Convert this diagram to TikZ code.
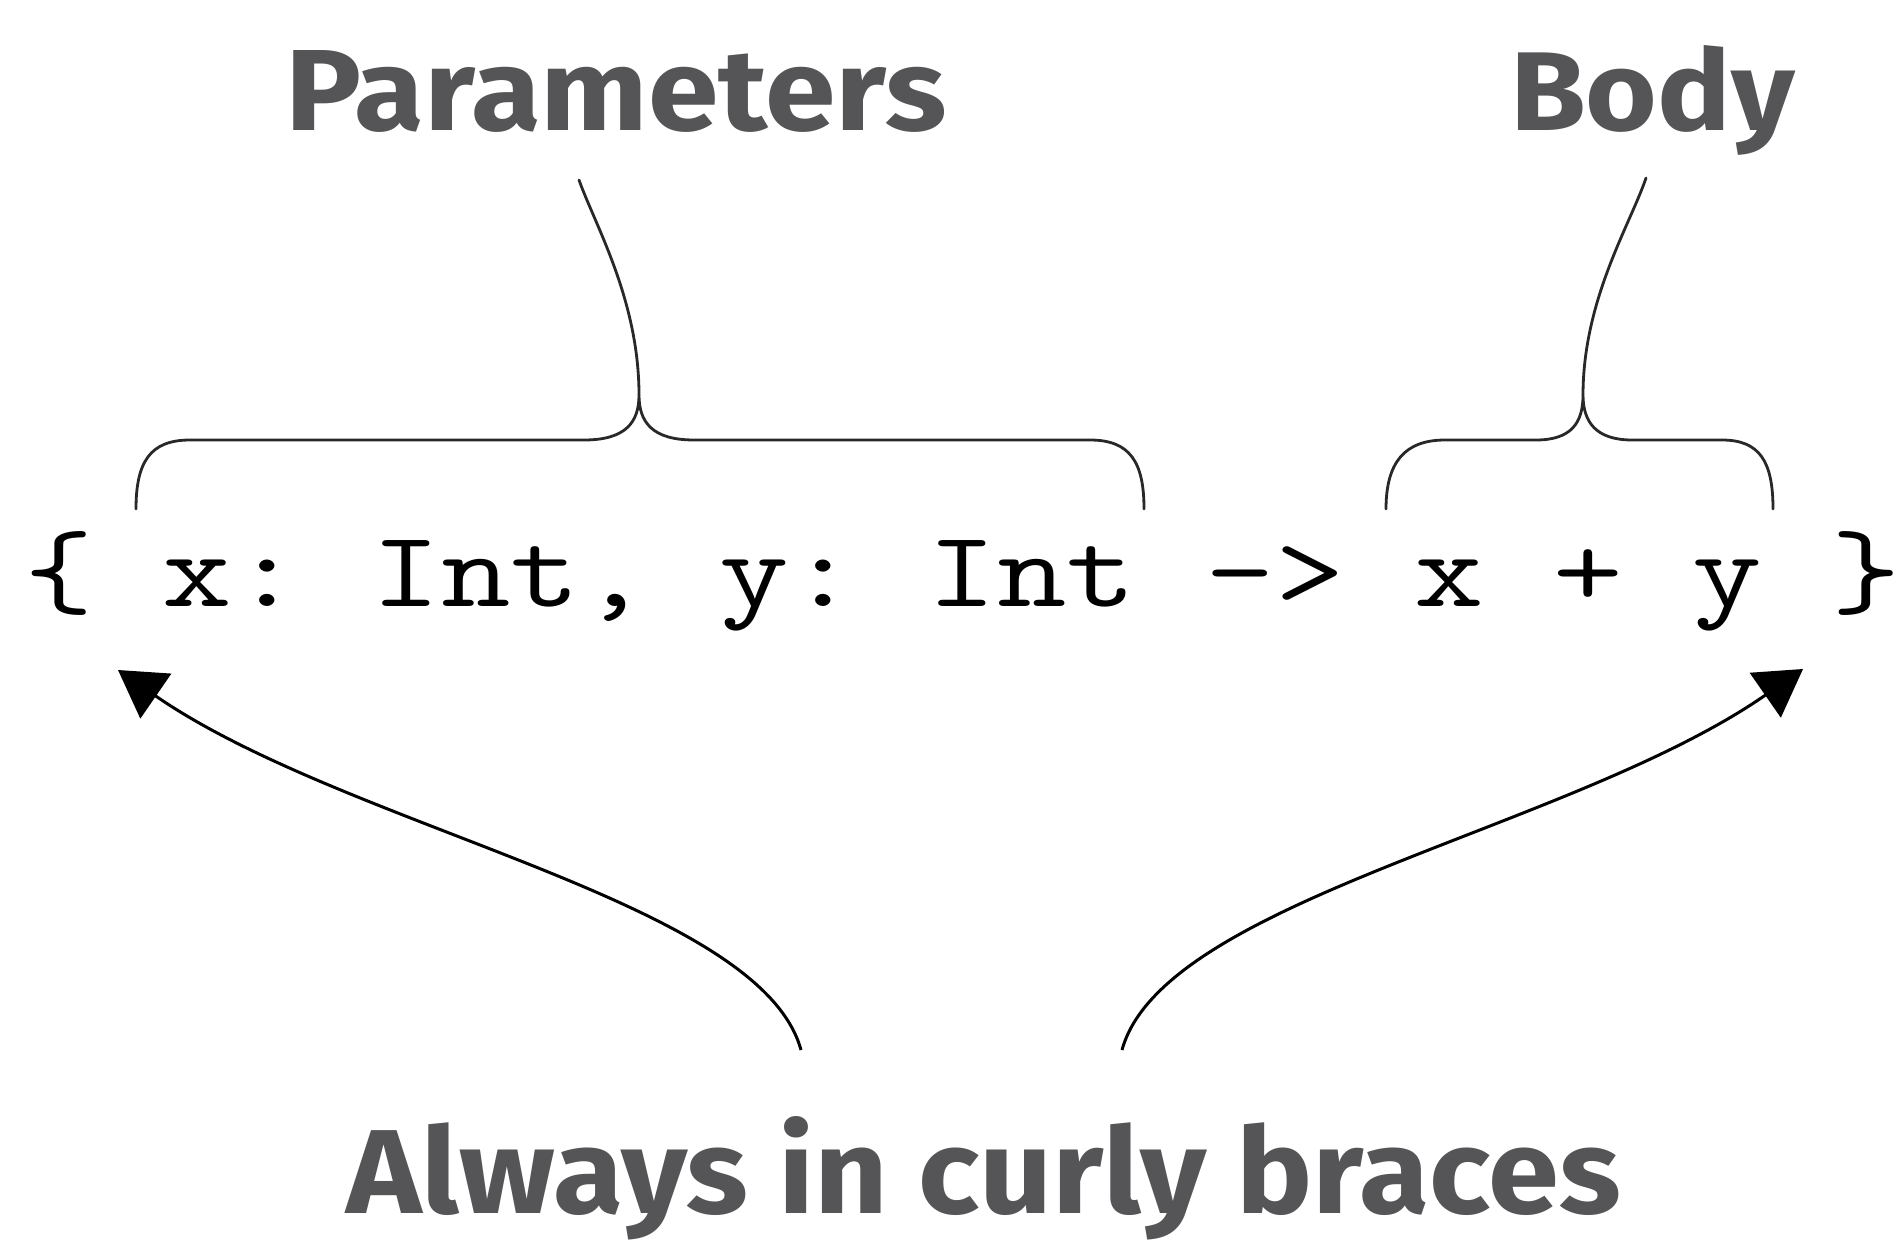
\documentclass[tikz,border=0pt]{standalone}
\usepackage{fontspec}
\usepackage{graphicx}
\setmainfont{Fira Sans}
\newfontfamily\labelfont{Fira Sans}
\usetikzlibrary{arrows.meta}
\definecolor{labelgray}{RGB}{85,85,88}
\definecolor{inkdark}{RGB}{40,40,40}
\tikzset{
  lbl/.style={anchor=base west, inner sep=0pt, outer sep=0pt, text=labelgray},
  codetxt/.style={anchor=base west, inner sep=0pt, outer sep=0pt, text=black},
  bracestroke/.style={draw=inkdark, line width=2.8pt, line cap=round, line join=round},
  arrowstroke/.style={draw=black, line width=3pt,
     -{Triangle[length=46pt,width=54pt]}, shorten >=0pt}
}
\begin{document}
\begin{tikzpicture}[x=1pt,y=-1pt]
\useasboundingbox[fill=white] (0,0) rectangle (1902,1249);

% labels
\node[lbl] (params) at (285,131)
  {\resizebox{661pt}{80pt}{\labelfont\bfseries Parameters}};
\node[lbl] (body) at (1510,131)
  {\resizebox{285pt}{85pt}{\labelfont\bfseries Body}};
\node[lbl] (always) at (346,1213)
  {\resizebox{1274pt}{97pt}{\labelfont\bfseries Always in curly braces}};

% code line
\node[codetxt] (code) at (24,606)
  {\scalebox{1.25}[1]{\frenchspacing\ttfamily\fontsize{108}{112}\selectfont \{ x: Int, y: Int -> x + y \}}};

% brace anchor points
\coordinate (pL) at (136,509);
\coordinate (pR) at (1144,509);
\coordinate (pTip) at (639,395);
\coordinate (pTop) at (579,180);
\coordinate (bL) at (1386,509);
\coordinate (bR) at (1773,509);
\coordinate (bTip) at (1583,395);
\coordinate (bTop) at (1646,178);

% parameters brace
\draw[bracestroke] (pL) .. controls (136,462) and (150,440) .. (190,440)
  -- (584,440) .. controls (626,440) and (639,422) .. (pTip)
  .. controls (639,422) and (652,440) .. (694,440)
  -- (1090,440) .. controls (1130,440) and (1144,462) .. (pR);
\draw[bracestroke] (pTip) .. controls (639,300) and (595,225) .. (pTop);

% body brace
\draw[bracestroke] (bL) .. controls (1386,462) and (1405,440) .. (1445,440)
  -- (1536,440) .. controls (1572,440) and (1583,422) .. (bTip)
  .. controls (1583,422) and (1596,440) .. (1632,440)
  -- (1722,440) .. controls (1760,440) and (1773,462) .. (bR);
\draw[bracestroke] (bTip) .. controls (1583,300) and (1630,225) .. (bTop);

% arrows
\coordinate (aLs) at (801,1050);
\coordinate (aLe) at (118,670);
\coordinate (aRs) at (1122,1050);
\coordinate (aRe) at (1803,669);
\draw[arrowstroke] (aLs) .. controls (760,900) and (350,830) .. (aLe);
\draw[arrowstroke] (aRs) .. controls (1163,900) and (1571,830) .. (aRe);
\end{tikzpicture}
\end{document}
